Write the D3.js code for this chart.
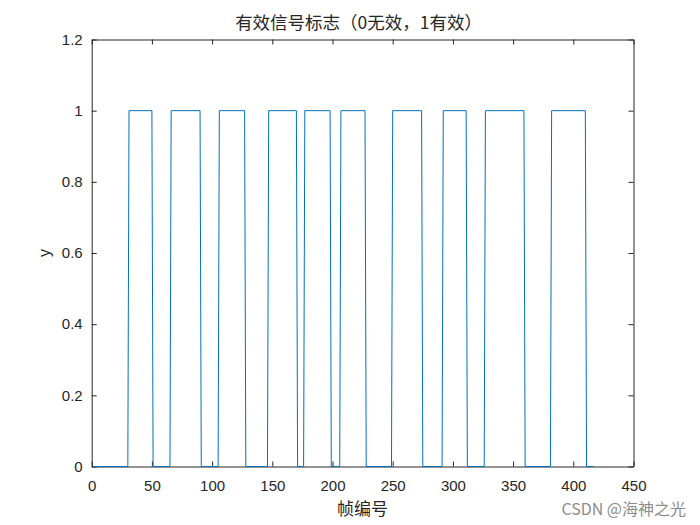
<!DOCTYPE html>
<html lang="zh">
<head>
<meta charset="utf-8">
<title>有效信号标志</title>
<style>
  body { margin: 0; background: #fff; }
  svg { display: block; font-family: "Liberation Sans", Arial, Helvetica, sans-serif; }
  .axis path, .axis line { stroke: #262626; stroke-width: 1px; fill: none; }
  .axis text { font-size: 15px; fill: #262626; font-family: "Liberation Sans", Arial, sans-serif; }
  .lbl { font-family: "Noto Sans CJK SC", "Liberation Sans", sans-serif; fill: #262626; }
</style>
</head>
<body>
<script src="https://cdnjs.cloudflare.com/ajax/libs/d3/7.8.5/d3.min.js"></script>
<script>
// frames where the flag switches 0 -> 1 (last 0 frame) and 1 -> 0 (last 1 frame)
var riseFrames = [30, 65, 105, 146, 176, 206, 249, 291, 326, 381];
var fallFrames = [50, 90, 127, 170, 198, 227, 274, 311, 359, 410];
var firstFrame = 1;
var lastFrame = 417;

var xTicks = [0, 50, 100, 150, 200, 250, 300, 350, 400, 450];
var yTicks = [0, 0.2, 0.4, 0.6, 0.8, 1, 1.2];

var W = 700, H = 525;
var margin = { top: 39.5, right: 66.5, bottom: 58.5, left: 91.7 };
var width = W - margin.left - margin.right;
var height = H - margin.top - margin.bottom;

// corner points of the 0/1 flag, one frame apart at each edge
var points = [{ f: firstFrame, v: 0 }];
riseFrames.forEach(function(r, i) {
  points.push({ f: r, v: 0 });
  points.push({ f: r + 1, v: 1 });
  points.push({ f: fallFrames[i], v: 1 });
  points.push({ f: fallFrames[i] + 1, v: 0 });
});
points.push({ f: lastFrame, v: 0 });

var x = d3.scaleLinear().domain([0, 450]).range([0, width]);
var y = d3.scaleLinear().domain([0, 1.2]).range([height, 0]);

var svg = d3.select("body").append("svg")
  .attr("width", W).attr("height", H);

var g = svg.append("g")
  .attr("transform", "translate(" + margin.left + "," + margin.top + ")");

var fmt = function(d) { return d3.format("")(+d.toFixed(1)); };

g.append("g").attr("class", "axis")
  .attr("transform", "translate(0," + height + ")")
  .call(d3.axisBottom(x).tickValues(xTicks).tickSizeInner(-5).tickSizeOuter(0).tickPadding(14));

g.append("g").attr("class", "axis")
  .call(d3.axisTop(x).tickValues(xTicks).tickSizeInner(-5).tickSizeOuter(0).tickFormat(""));

g.append("g").attr("class", "axis")
  .call(d3.axisLeft(y).tickValues(yTicks).tickSizeInner(-5).tickSizeOuter(0).tickPadding(9).tickFormat(fmt));

g.append("g").attr("class", "axis")
  .attr("transform", "translate(" + width + ",0)")
  .call(d3.axisRight(y).tickValues(yTicks).tickSizeInner(-5).tickSizeOuter(0).tickFormat(""));

g.append("path")
  .datum(points)
  .attr("fill", "none")
  .attr("stroke", "#0072BD")
  .attr("stroke-width", 1)
  .attr("d", d3.line().x(function(d) { return x(d.f); }).y(function(d) { return y(d.v); }));

svg.append("text").attr("class", "lbl")
  .attr("x", margin.left + width / 2 - 4).attr("y", 29)
  .attr("text-anchor", "middle").attr("font-size", 17.5)
  .text("有效信号标志（0无效，1有效）");

svg.append("text").attr("class", "lbl")
  .attr("x", margin.left + width / 2).attr("y", 515)
  .attr("text-anchor", "middle").attr("font-size", 17)
  .text("帧编号");

svg.append("text")
  .attr("transform", "translate(50," + (margin.top + height / 2) + ") rotate(-90)")
  .attr("text-anchor", "middle").attr("font-size", 16).attr("fill", "#262626")
  .text("y");

svg.append("text").attr("class", "lbl")
  .attr("x", 686).attr("y", 515)
  .attr("text-anchor", "end").attr("font-size", 16)
  .style("fill", "#8c8c8c")
  .text("CSDN @海神之光");
</script>
</body>
</html>
